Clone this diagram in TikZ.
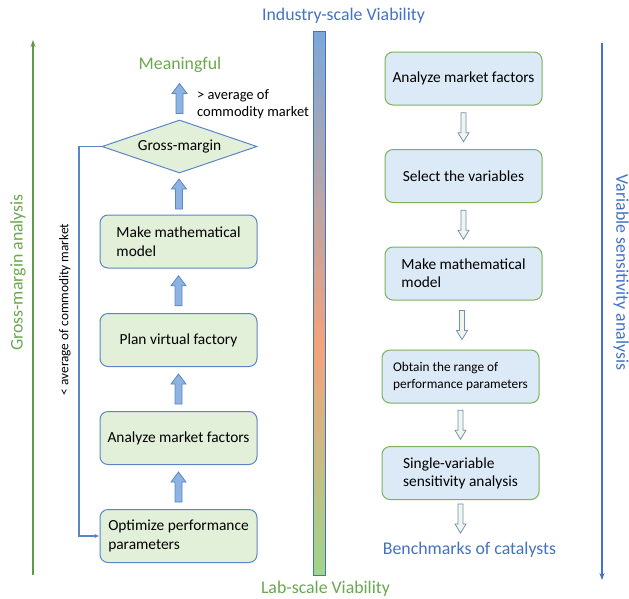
\documentclass[tikz,border=0pt]{standalone}
\usepackage{fontspec}
\setmainfont{Carlito}
\usetikzlibrary{shapes.geometric,calc,arrows.meta}
\definecolor{tblue}{HTML}{4472C4}
\definecolor{tgreen}{HTML}{6AA84F}
\definecolor{lgreen}{HTML}{5E9A48}
\definecolor{gfill}{HTML}{E2F0D9}
\definecolor{bfill}{HTML}{DCE9F6}
\definecolor{gborder}{HTML}{7AB35A}
\definecolor{bborder}{HTML}{5A86C8}
\definecolor{barB}{HTML}{7BA7D9}
\definecolor{barO}{HTML}{F3A37A}
\definecolor{barG}{HTML}{A0D58C}
\definecolor{arrL}{HTML}{8DB3E2}
\definecolor{arrRd}{HTML}{7090B8}
\definecolor{arrRf}{HTML}{F1F6ED}
\pgfdeclareverticalshading{viab}{100bp}{color(0bp)=(barG); color(25bp)=(barG); color(46bp)=(barO); color(75bp)=(barB); color(100bp)=(barB)}
\begin{document}
\begin{tikzpicture}[x=1pt,y=-1pt,
  lbox/.style={draw=bborder, fill=gfill, rounded corners=8pt, minimum width=157pt, minimum height=53pt, line width=1pt, align=left, inner sep=0pt, font=\fontsize{15.4}{19}\selectfont},
  rbox/.style={draw=gborder, fill=bfill, rounded corners=8pt, minimum width=157pt, minimum height=53pt, line width=1pt, align=left, inner sep=0pt, font=\fontsize{15.4}{18}\selectfont},
  ttl/.style={font=\fontsize{17.8}{21}\selectfont, inner sep=0pt},
  small/.style={font=\fontsize{14.5}{16.5}\selectfont, inner sep=0pt},
  upblk/.pic={\draw[draw=bborder, fill=arrL, line width=0.8pt, line join=miter]
     (-3.5,15) -- (3.5,15) -- (3.5,-5) -- (7.5,-5) -- (0,-15) -- (-7.5,-5) -- (-3.5,-5) -- cycle;},
  dnblk/.pic={\draw[draw=arrRd, fill=arrRf, line width=0.8pt, line join=miter]
     (-2.5,-14.5) -- (2.5,-14.5) -- (2.5,5.5) -- (5.5,5.5) -- (0,14.5) -- (-5.5,5.5) -- (-2.5,5.5) -- cycle;}
]
\fill[white] (0,0) rectangle (629,598);
\useasboundingbox (0,0) rectangle (629,598);

% titles
\node[ttl, text=tblue] (ind) at (343.5,16) {Industry-scale Viability};
\node[ttl, text=tgreen] (lab) at (325.5,589) {Lab-scale Viability};
\node[ttl, text=tgreen] (mean) at (180,65) {Meaningful};
\node[ttl, text=tblue] (bench) at (469.5,550) {Benchmarks of catalysts};
\node[ttl, text=tgreen, rotate=90] (gma) at (18,272.5) {Gross-margin analysis};
\node[ttl, text=tblue, rotate=-90] (vsa) at (621,272.5) {Variable sensitivity analysis};

% gradient bar
\shadedraw[shading=viab, draw=tblue, line width=0.8pt] (313,31) rectangle (325,575);

% side axes
\coordinate (ga0) at (33,575);
\coordinate (ga1) at (33,40);
\draw[lgreen, line width=1.5pt, -{Stealth[length=7pt,width=5pt]}] (ga0) -- (ga1);
\coordinate (va0) at (602,43);
\coordinate (va1) at (602,580);
\draw[tblue, line width=1.3pt, -{Stealth[length=7pt,width=5pt]}] (va0) -- (va1);

% left flow
\node[diamond, draw=bborder, fill=gfill, aspect=2.9, minimum width=155pt, minimum height=53pt, inner sep=0pt, line width=1pt, font=\fontsize{15.4}{19}\selectfont] (gm) at (179.5,146.5) {Gross-margin};
\node[lbox] (lmm) at (178.5,241.5) {Make mathematical\\model};
\node[lbox] (pv) at (178.5,340) {Plan virtual factory};
\node[lbox] (lam) at (178.5,438) {Analyze market factors};
\node[lbox] (op) at (178.5,536) {Optimize performance\\parameters};

\pic at ($(gm.north)+(0,-21)$) {upblk};
\pic at ($(gm.south)!0.5!(lmm.north)$) {upblk};
\pic at ($(lmm.south)!0.5!(pv.north)$) {upblk};
\pic at ($(pv.south)!0.5!(lam.north)$) {upblk};
\pic at ($(lam.south)!0.5!(op.north)$) {upblk};

\node[small, align=left, anchor=west] (gt) at (197,104) {> average of\\commodity market};
\node[small, font=\fontsize{13.3}{16}\selectfont, rotate=90] (lt) at (65,309.5) {< average of commodity market};

\coordinate (fbc) at (79,146.5);
\draw[bborder, line width=1.2pt, -{Latex[length=5pt,width=4.5pt]}] (gm.west) -- (fbc) |- (op.west);

% right flow
\node[rbox] (ram) at (463.5,78.5) {Analyze market factors};
\node[rbox] (sv) at (463.5,176) {Select the variables};
\node[rbox] (rmm) at (463.5,273.5) {Make mathematical\\model};
\node[rbox, font=\fontsize{13.3}{16.5}\selectfont] (orp) at (460.5,376.5) {Obtain the range of\\performance parameters};
\node[rbox] (ss) at (460.5,473) {Single-variable\\sensitivity analysis};

\pic at ($(ram.south)!0.5!(sv.north)$) {dnblk};
\pic at ($(sv.south)!0.5!(rmm.north)$) {dnblk};
\pic at ($(rmm.south)!0.5!(orp.north)$) {dnblk};
\pic at ($(orp.south)!0.5!(ss.north)$) {dnblk};
\pic at ($(ss.south)+(0,18.5)$) {dnblk};
\end{tikzpicture}
\end{document}
